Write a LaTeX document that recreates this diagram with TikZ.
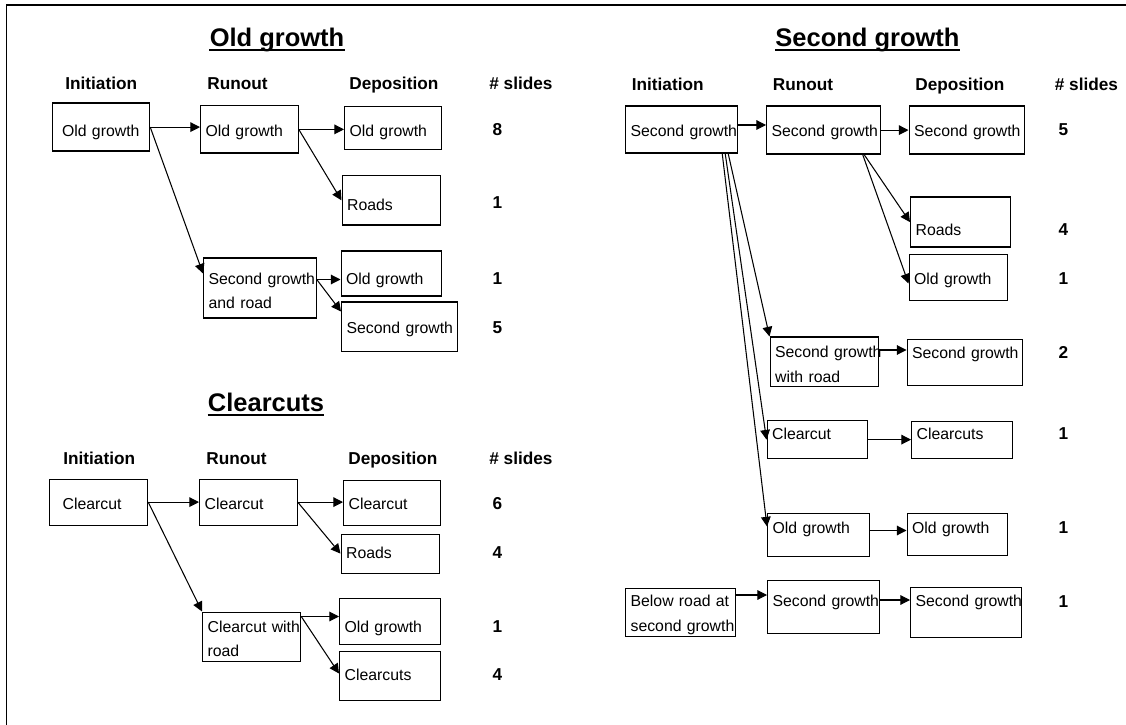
\documentclass[tikz,border=0pt]{standalone}
\usepackage{fontspec}
\setmainfont{Liberation Sans}
\usetikzlibrary{arrows.meta}
\tikzset{
  box/.style args={#1/#2/#3}{draw, line width=0.7pt, anchor=north west, align=left,
    inner ysep=0pt, inner xsep=0.1cm, text width=#1cm, text height=#2cm, text depth=#3cm,
    font=\fontsize{9}{14}\selectfont},
  head/.style={anchor=base west, inner sep=0pt, font=\fontsize{9.8}{12}\selectfont\bfseries},
  num/.style={anchor=base, inner sep=0pt, font=\fontsize{9.8}{12}\selectfont\bfseries},
  ttl/.style={anchor=base, inner sep=0pt, font=\fontsize{14.5}{17}\selectfont\bfseries},
  arr/.style={-{Triangle[length=5.5pt,width=5.5pt]}, line width=0.6pt},
  uline/.style={line width=1.1pt}
}
\begin{document}
\begin{tikzpicture}
  \useasboundingbox (0,0) rectangle (22.52,-14.5);
  \draw[line width=1pt] (0.13,-14.5) -- (0.13,-0.10) -- (22.52,-0.10);

  % Old growth
  \node[ttl] (tog) at (5.54,-0.93) {Old growth};
  \draw[uline] ([yshift=-0.07cm]tog.base west) -- ([yshift=-0.07cm]tog.base east);
  \node[head] (hog1) at (1.30,-1.79) {Initiation};
  \node[head] (hog2) at (4.14,-1.79) {Runout};
  \node[head] (hog3) at (6.98,-1.79) {Deposition};
  \node[head] (hog4) at (9.78,-1.79) {\# slides};

  \node[box=1.55/0.66/0.30, inner xsep=0.2cm] (ogi) at (1.03,-2.05) {Old~growth};
  \node[box=1.75/0.61/0.34] (ogr) at (4.00,-2.10) {Old~growth};
  \node[box=1.74/0.59/0.27] (ogd1) at (6.88,-2.12) {Old~growth};
  \node[box=1.76/0.69/0.30] (ogd2) at (6.83,-3.50) {Roads};
  \node[box=2.05/0.52/0.68] (ogsr) at (4.06,-5.15) {Second~growth\\and~road};
  \node[box=1.81/0.66/0.24] (ogd3) at (6.81,-5.01) {Old~growth};
  \node[box=2.12/0.63/0.35] (ogd4) at (6.82,-6.03) {Second~growth};

  \node[num] (nog1) at (9.95,-2.72) {8};
  \node[num] (nog2) at (9.95,-4.18) {1};
  \node[num] (nog3) at (9.95,-5.69) {1};
  \node[num] (nog4) at (9.95,-6.68) {5};

  \draw[arr] (ogi.east) -- (ogi.east -| ogr.west);
  \draw[arr] (ogr.east) -- (ogr.east -| ogd1.west);
  \draw[arr] (ogr.east) -- (ogd2.west);
  \draw[arr] (ogi.east) -- ([yshift=-0.32cm]ogsr.north west);
  \draw[arr] ([yshift=-0.44cm]ogsr.north east) -- ([yshift=-0.44cm]ogsr.north east -| ogd3.west);
  \draw[arr] ([yshift=-0.44cm]ogsr.north east) -- ([yshift=-0.2cm]ogd4.north west);

  % Clearcuts
  \node[ttl] (tcc) at (5.32,-8.23) {Clearcuts};
  \draw[uline] ([yshift=-0.07cm]tcc.base west) -- ([yshift=-0.07cm]tcc.base east);
  \node[head] (hcc1) at (1.26,-9.28) {Initiation};
  \node[head] (hcc2) at (4.12,-9.28) {Runout};
  \node[head] (hcc3) at (6.96,-9.28) {Deposition};
  \node[head] (hcc4) at (9.78,-9.28) {\# slides};

  \node[box=1.44/0.60/0.32, inner xsep=0.26cm] (cci) at (0.98,-9.57) {Clearcut};
  \node[box=1.75/0.60/0.32] (ccr) at (3.98,-9.57) {Clearcut};
  \node[box=1.74/0.58/0.32] (ccd1) at (6.86,-9.59) {Clearcut};
  \node[box=1.76/0.48/0.30] (ccd2) at (6.81,-10.67) {Roads};
  \node[box=1.76/0.40/0.59] (ccwr) at (4.04,-12.23) {Clearcut~with\\road};
  \node[box=1.81/0.68/0.24] (ccd3) at (6.78,-11.95) {Old~growth};
  \node[box=1.81/0.58/0.40] (ccd4) at (6.78,-13.02) {Clearcuts};

  \node[num] (ncc1) at (9.95,-10.18) {6};
  \node[num] (ncc2) at (9.95,-11.16) {4};
  \node[num] (ncc3) at (9.95,-12.64) {1};
  \node[num] (ncc4) at (9.95,-13.61) {4};

  \draw[arr] (cci.east) -- (cci.east -| ccr.west);
  \draw[arr] (ccr.east) -- (ccr.east -| ccd1.west);
  \draw[arr] (ccr.east) -- (ccd2.west);
  \draw[arr] (cci.east) -- (ccwr.north west);
  \draw[arr] ([yshift=-0.1cm]ccwr.north east) -- ([yshift=-0.1cm]ccwr.north east -| ccd3.west);
  \draw[arr] ([yshift=-0.1cm]ccwr.north east) -- ([yshift=-0.45cm]ccd4.north west);

  % Second growth
  \node[ttl] (tsg) at (17.35,-0.93) {Second growth};
  \draw[uline] ([yshift=-0.07cm]tsg.base west) -- ([yshift=-0.07cm]tsg.base east);
  \node[head] (hsg1) at (12.63,-1.82) {Initiation};
  \node[head] (hsg2) at (15.45,-1.82) {Runout};
  \node[head] (hsg3) at (18.30,-1.82) {Deposition};
  \node[head] (hsg4) at (21.09,-1.82) {\# slides};

  \node[box=2.04/0.60/0.34] (sgi) at (12.50,-2.11) {Second~growth};
  \node[box=2.07/0.60/0.36] (sgr) at (15.32,-2.11) {Second~growth};
  \node[box=2.10/0.60/0.36] (sgd1) at (18.17,-2.11) {Second~growth};
  \node[box=1.79/0.76/0.24] (sgd2) at (18.20,-3.93) {Roads};
  \node[box=1.76/0.60/0.32] (sgd3) at (18.17,-5.08) {Old~growth};
  \node[box=1.97/0.41/0.58] (sgwr) at (15.39,-6.73) {Second~growth\\with~road};
  \node[box=2.11/0.38/0.54] (sgd4) at (18.13,-6.77) {Second~growth};
  \node[box=1.81/0.38/0.38] (sgcr) at (15.33,-8.40) {Clearcut};
  \node[box=1.81/0.36/0.38] (sgcd) at (18.22,-8.42) {Clearcuts};
  \node[box=1.84/0.40/0.46] (sgor) at (15.34,-10.25) {Old~growth};
  \node[box=1.81/0.40/0.44] (sgod) at (18.13,-10.25) {Old~growth};
  \node[box=1.99/0.37/0.60] (sgb) at (12.50,-11.75) {Below~road~at\\second~growth};
  \node[box=2.04/0.52/0.53] (sgbr) at (15.34,-11.60) {Second~growth};
  \node[box=2.02/0.39/0.61] (sgbd) at (18.20,-11.73) {Second~growth};

  \node[num] (nsg1) at (21.27,-2.72) {5};
  \node[num] (nsg2) at (21.27,-4.71) {4};
  \node[num] (nsg3) at (21.27,-5.69) {1};
  \node[num] (nsg4) at (21.27,-7.16) {2};
  \node[num] (nsg5) at (21.27,-8.79) {1};
  \node[num] (nsg6) at (21.27,-10.66) {1};
  \node[num] (nsg7) at (21.27,-12.14) {1};

  \draw[arr] ([yshift=-0.39cm]sgi.north east) -- ([yshift=-0.39cm]sgi.north east -| sgr.west);
  \draw[arr] (sgr.east) -- (sgr.east -| sgd1.west);
  \draw[arr] ([xshift=-0.33cm]sgr.south east) -- (sgd2.west);
  \draw[arr] ([xshift=-0.36cm]sgr.south east) -- ([yshift=-0.59cm]sgd3.north west);
  \draw[arr] ([xshift=-0.20cm]sgi.south east) -- (sgwr.north west);
  \draw[arr] ([xshift=-0.26cm]sgi.south east) -- (sgcr.west);
  \draw[arr] ([xshift=-0.32cm]sgi.south east) -- ([yshift=-0.28cm]sgor.north west);
  \draw[arr] ([yshift=-0.27cm]sgwr.north east) -- ([yshift=-0.27cm]sgwr.north east -| sgd4.west);
  \draw[arr] (sgcr.east) -- (sgcr.east -| sgcd.west);
  \draw[arr] ([yshift=-0.36cm]sgor.north east) -- ([yshift=-0.36cm]sgor.north east -| sgod.west);
  \draw[arr] ([yshift=-0.15cm]sgb.north east) -- ([yshift=-0.15cm]sgb.north east -| sgbr.west);
  \draw[arr] ([yshift=-0.40cm]sgbr.north east) -- ([yshift=-0.40cm]sgbr.north east -| sgbd.west);
\end{tikzpicture}
\end{document}
